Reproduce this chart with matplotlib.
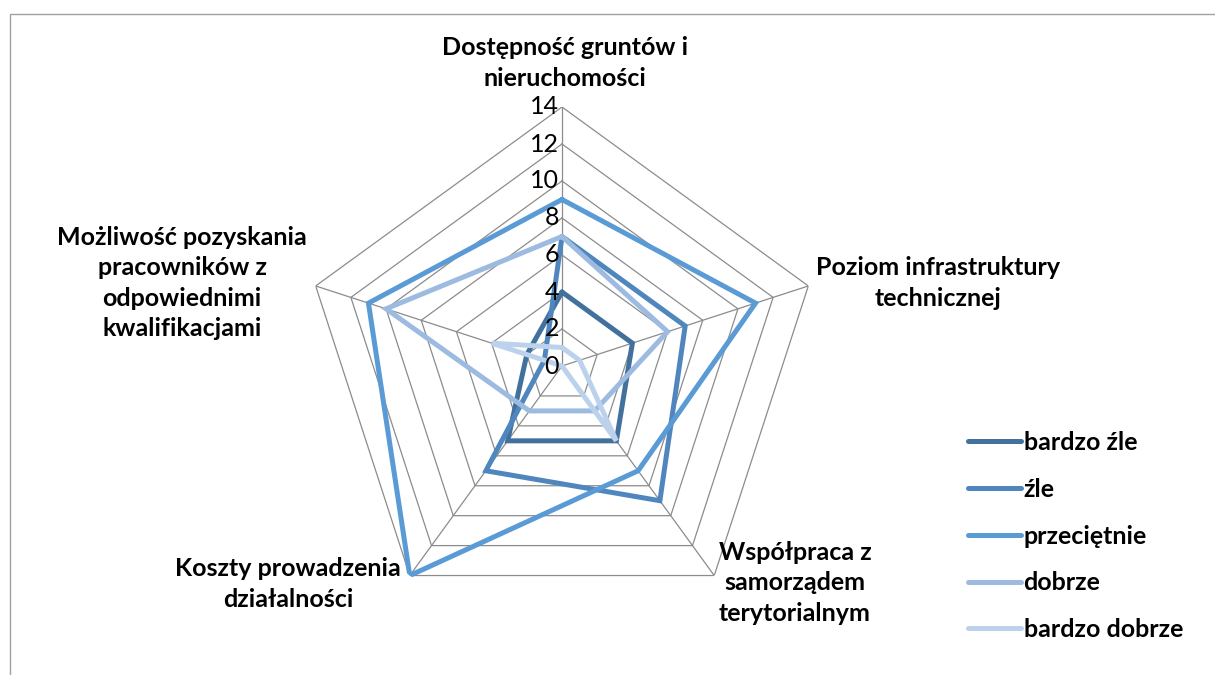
import matplotlib
matplotlib.use('Agg')
import matplotlib.pyplot as plt
import matplotlib.patches as patches
import numpy as np

plt.rcParams['font.family'] = ['Lato', 'DejaVu Sans']

categories = ['Dostępność gruntów i\nnieruchomości',
              'Poziom infrastruktury\ntechnicznej',
              'Współpraca z\nsamorządem\nterytorialnym',
              'Koszty prowadzenia\ndziałalności',
              'Możliwość pozyskania\npracowników z\nodpowiednimi\nkwalifikacjami']
series_names = ['bardzo źle', 'źle', 'przeciętnie', 'dobrze', 'bardzo dobrze']
bardzo_zle = [4, 4, 5, 5, 2]
zle = [7, 7, 9, 7, 1]
przecietnie = [9, 11, 7, 14, 11]
dobrze = [7, 6, 3, 3, 10]
bardzo_dobrze = [1, 1, 5, 0, 4]
r_ticks = [0, 2, 4, 6, 8, 10, 12, 14]

colors = ['#41719c', '#4f86bd', '#5b9bd5', '#9dbbe1', '#bcd2ec']

W, H = 1215, 675
fig = plt.figure(figsize=(W / 100, H / 100), dpi=100)


def px(x, y):
    return x / W, 1 - y / H


# chart area border (only top and left visible)
fig.patches.append(patches.Rectangle(px(10, 700), 2, (700 - 14) / H, transform=fig.transFigure,
                                     fill=False, ec='#a0a0a0', lw=1))

cx, cy, R = 562, 366, 259
ax = fig.add_axes([(cx - R) / W, (H - cy - R) / H, 2 * R / W, 2 * R / H], projection='polar')
ax.set_theta_zero_location('N')
ax.set_theta_direction(-1)
ax.set_ylim(0, 14)
ax.axis('off')

n = len(categories)
theta = np.arange(n) * 2 * np.pi / n
theta_c = np.append(theta, theta[0])

# pentagon grid
for r in r_ticks[1:]:
    ax.plot(theta_c, [r] * (n + 1), color='#8c8c8c', lw=0.9, zorder=1)
for t in theta:
    ax.plot([t, t], [0, 14], color='#8c8c8c', lw=0.9, zorder=1)

all_series = [bardzo_zle, zle, przecietnie, dobrze, bardzo_dobrze]
for name, vals, c in zip(series_names, all_series, colors):
    ax.plot(theta_c, vals + vals[:1], color=c, lw=3.6, label=name, zorder=3,
            solid_joinstyle='miter')

# radial tick labels along the top axis
for r in r_ticks:
    x, y = px(cx - 3, cy - r * R / 14)
    fig.text(x, y, str(r), ha='right', va='center', fontsize=18, color='#000000', zorder=5)

label_pos = [(565, 63), (938, 283), (795, 583), (288, 584), (182, 283)]
for lab, (lx, ly) in zip(categories, label_pos):
    x, y = px(lx, ly)
    fig.text(x, y, lab, ha='center', va='center', fontsize=18, fontweight='bold',
             linespacing=1.38, color='#000000')

handles, labels = ax.get_legend_handles_labels()
for h in handles:
    h.set_solid_capstyle('round')
leg = fig.legend(handles, labels, loc='upper left', bbox_to_anchor=px(958, 421), frameon=False,
                 prop={'size': 18, 'weight': 'bold'}, handlelength=2.1, handletextpad=0.12,
                 labelspacing=0.95, borderaxespad=0)

fig.savefig('out.png', dpi=100)
